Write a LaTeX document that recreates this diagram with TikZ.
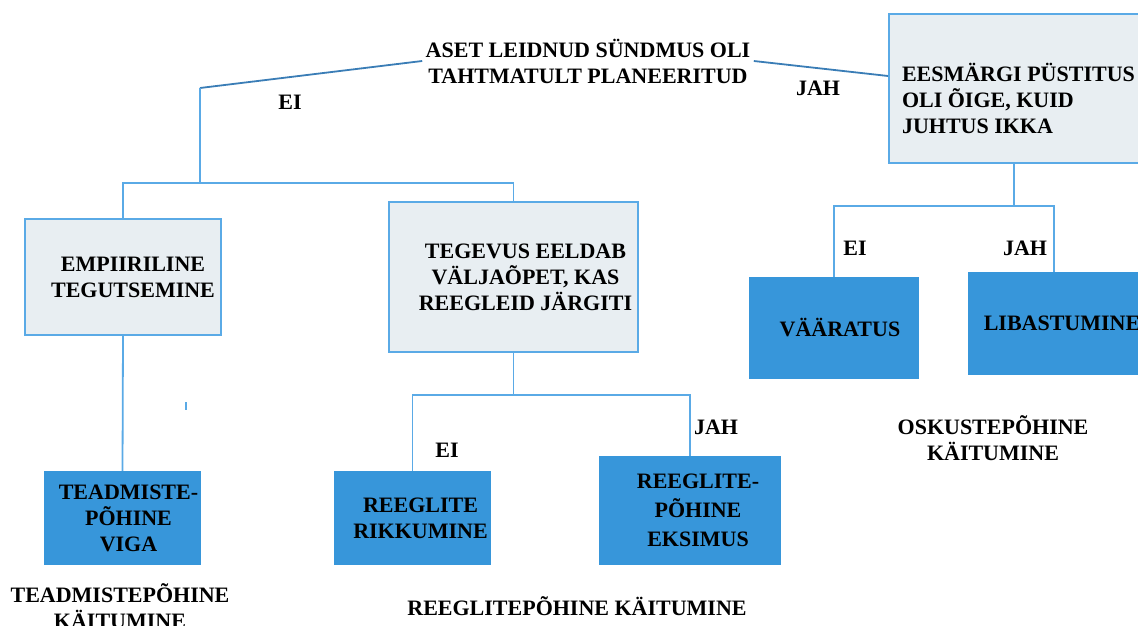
\documentclass[tikz,border=0pt]{standalone}
\usepackage{fontspec}
\setmainfont{Liberation Serif}
\definecolor{boxline}{HTML}{5AAAE6}
\definecolor{boxfill}{HTML}{E8EEF2}
\definecolor{leaffill}{HTML}{3796DA}
\definecolor{topline}{HTML}{3A7DB6}
\begin{document}
\begin{tikzpicture}[x=1pt,y=-1pt,
	every node/.style={font=\fontsize{22}{26}\selectfont\bfseries,align=center},
	qbox/.style={draw=boxline,line width=1.8pt,fill=boxfill,inner sep=0pt},
	leaf/.style={fill=leaffill,inner sep=0pt},
	conn/.style={draw=boxline,line width=1.8pt},
	topconn/.style={draw=topline,line width=1.8pt}]
		\useasboundingbox (0,0) rectangle (1138,626);
		\node (aset) at (588,61) {ASET LEIDNUD SÜNDMUS OLI\\TAHTMATULT PLANEERITUD};
		\node[qbox,minimum width=196,minimum height=116] (emp) at (123,277) {\hspace*{20pt}EMPIIRILINE\\\hspace*{20pt}TEGUTSEMINE};
		\node[qbox,minimum width=249,minimum height=150] (teg) at (513.5,277) {\hspace*{24pt}TEGEVUS EELDAB\\\hspace*{24pt}VÄLJAÕPET, KAS\\\hspace*{24pt}REEGLEID JÄRGITI};
		\node[qbox,minimum width=250,minimum height=149,text width=224,align=flush left] (ees) at (1014,88.5) {\rule{0pt}{38pt}\mbox{EESMÄRGI PÜSTITUS}\\OLI ÕIGE, KUID\\JUHTUS IKKA};
		\node[leaf,minimum width=157,minimum height=94] (tv) at (122.5,518) {\hspace*{12pt}TEADMISTE-\\\hspace*{12pt}PÕHINE\\\hspace*{12pt}VIGA};
		\node[leaf,minimum width=157,minimum height=94] (rr) at (412.5,518) {\hspace*{16pt}REEGLITE\\\hspace*{16pt}RIKKUMINE};
		\node[leaf,minimum width=182,minimum height=109,font=\fontsize{22}{29}\selectfont\bfseries] (rp) at (690,510.5) {\hspace*{16pt}REEGLITE-\\\hspace*{16pt}PÕHINE\\\hspace*{16pt}EKSIMUS};
		\node[leaf,minimum width=170,minimum height=102] (vaar) at (834,328) {\hspace*{12pt}VÄÄRATUS};
		\node[leaf,minimum width=172,minimum height=103] (liba) at (1054,323.5) {\hspace*{16pt}LIBASTUMINE};
		\coordinate (bend) at (200,88);
		\coordinate (split1) at (200,183);
		\coordinate (split2) at (513.5,395);
		\coordinate (split3) at (1014,206);
		\draw[topconn] (aset.west) -- (bend);
		\draw[topconn] (aset.east) -- ([yshift=12.5]ees.west);
		\draw[conn] (bend) -- (split1);
		\draw[conn] (emp.north) |- (split1) -| (teg.north);
		\draw[conn] (emp.south) -- (tv.north);
		\draw[conn] (teg.south) -- (split2);
		\draw[conn] (rr.north) |- (split2) -| (rp.north);
		\draw[conn] (ees.south) -- (split3);
		\draw[conn] (vaar.north) |- (split3) -| (liba.north);
		\draw[conn] (186,402) -- (186,410);
		\node (no1) at (290,102) {EI};
		\node (yes1) at (818,88) {JAH};
		\node (no2) at (447,450) {EI};
		\node (yes2) at (716,427) {JAH};
		\node (no3) at (855,248) {EI};
		\node (yes3) at (1025,248) {JAH};
		\node (tkait) at (120,606) {TEADMISTEPÕHINE\\KÄITUMINE};
		\node (rkait) at (577,606) {REEGLITEPÕHINE KÄITUMINE};
		\node (okait) at (993,438) {OSKUSTEPÕHINE\\KÄITUMINE};
\end{tikzpicture}
\end{document}
